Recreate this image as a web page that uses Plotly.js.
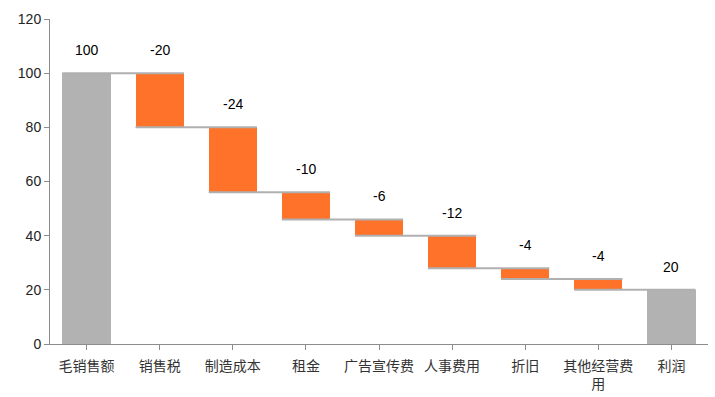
<!DOCTYPE html>
<html>
<head>
<meta charset="utf-8">
<script src="https://cdn.plot.ly/plotly-3.0.1.min.js"></script>
<style>html,body{margin:0;padding:0;background:#fff;}#chart{width:715px;height:397px;}</style>
</head>
<body>
<div id="chart"></div>
<script>
const categories = ['毛销售额','销售税','制造成本','租金','广告宣传费','人事费用','折旧','其他经营费<br>用','利润'];
const values = [100, -20, -24, -10, -6, -12, -4, -4, 20];
const isTotal = [true, false, false, false, false, false, false, false, true];
const labels = ['100','-20','-24','-10','-6','-12','-4','-4','20'];

const GRAY = '#B2B2B2';
const ORANGE = '#FF7229';
const HALF = 0.33;

let running = 0;
const bases = [], heights = [], tops = [], levels = [], colors = [];
values.forEach((v, i) => {
  if (isTotal[i]) {
    bases.push(0); heights.push(v); tops.push(v); running = v; colors.push(GRAY);
  } else {
    const prev = running; running = prev + v;
    bases.push(running); heights.push(-v); tops.push(prev); colors.push(ORANGE);
  }
  levels.push(running);
});

const traces = [{
  type: 'bar', x: categories.map((c,i)=>i), y: heights, base: bases,
  marker: {color: colors, line: {width: 0}}, width: HALF*2,
  hoverinfo: 'skip', showlegend: false
}];

const cx = [], cy = [];
for (let i = 0; i < values.length - 1; i++) {
  cx.push(i - HALF, i + 1 + HALF, null);
  cy.push(levels[i], levels[i], null);
}
traces.push({type: 'scatter', mode: 'lines', x: cx, y: cy, line: {color: '#B0B0B0', width: 2}, hoverinfo: 'skip', showlegend: false});

const annotations = labels.map((t, i) => ({
  x: i, y: tops[i], text: t, showarrow: false, yanchor: 'bottom', yshift: 13,
  font: {family: 'Liberation Sans, Arial, sans-serif', size: 14, color: '#000'}
}));

const layout = {
  width: 715, height: 397,
  margin: {l: 50, r: 7, t: 19, b: 53},
  paper_bgcolor: '#fff', plot_bgcolor: '#fff',
  font: {family: 'Liberation Sans, "Noto Sans CJK SC", sans-serif', color: '#222'},
  xaxis: {
    range: [-0.5, values.length - 0.5],
    tickmode: 'array', tickvals: categories.map((c,i)=>i), ticktext: categories,
    showline: true, linecolor: '#8c8c8c', linewidth: 1,
    ticks: 'outside', ticklen: 5, tickcolor: '#8c8c8c', tickson: 'boundaries',
    showgrid: false, zeroline: false, ticklabelstandoff: 4,
    tickfont: {family: '"Noto Sans CJK SC", sans-serif', size: 14, color: '#333'}
  },
  yaxis: {
    range: [0, 120], dtick: 20, showline: true, linecolor: '#8c8c8c', linewidth: 1,
    ticks: 'outside', ticklen: 5, tickcolor: '#8c8c8c', showgrid: false, zeroline: false,
    tickfont: {family: 'Liberation Sans, Arial, sans-serif', size: 14, color: '#222'}
  },
  bargap: 0,
  annotations: annotations
};

Plotly.newPlot('chart', traces, layout, {displayModeBar: false, staticPlot: true});
</script>
</body>
</html>
